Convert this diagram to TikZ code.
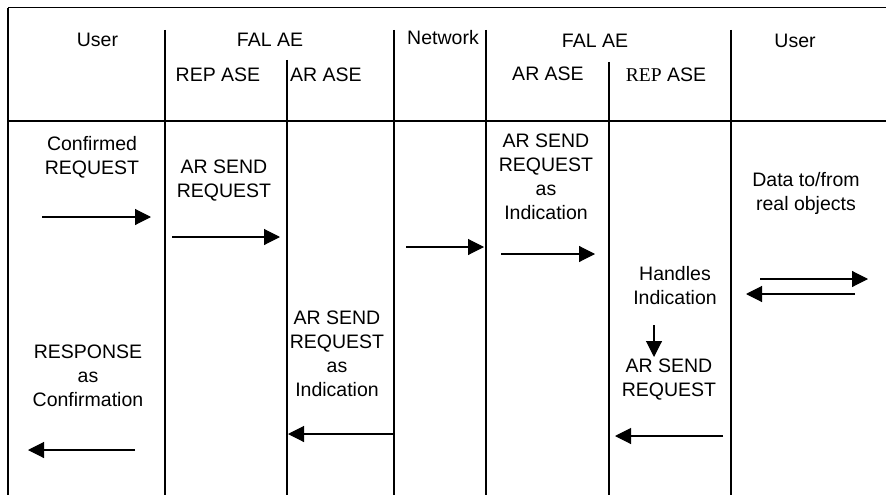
\documentclass[tikz,border=0pt]{standalone}
\usepackage{fontspec}
\setmainfont{Liberation Sans}
\newfontfamily\timesfont{Liberation Serif}
\usetikzlibrary{arrows.meta}
\tikzset{
  lbl/.style={inner sep=0pt, align=center, font=\fontsize{19.5}{24}\selectfont},
  col/.style={line width=1.7pt},
  msg/.style={line width=1.1pt, -{Triangle[length=16pt,width=16pt]}},
}
\begin{document}
\begin{tikzpicture}[x=1pt,y=-1pt]
\useasboundingbox (0,0) rectangle (886,495);
% frame
\draw[line width=1pt] (8,8) -- (886,8);
\draw[line width=1.4pt] (8,8) -- (8,495);
\draw[line width=2.4pt] (8,121) -- (886,121);
% column lines
\draw[col] (165,30) -- (165,495);
\draw[col] (287,60) -- (287,495);
\draw[col] (394,30) -- (394,495);
\draw[col] (486,30) -- (486,495);
\draw[col] (609,62) -- (609,495);
\draw[col] (731,30) -- (731,495);
% headers
\node[lbl] (hUserL) at (97.5,40) {User};
\node[lbl] (hFalL) at (270,40) {FAL AE};
\node[lbl] (hRepL) at (218,74.5) {REP ASE};
\node[lbl] (hArL) at (326,74.5) {AR ASE};
\node[lbl] (hNet) at (443,38) {Network};
\node[lbl] (hFalR) at (595,40.5) {FAL AE};
\node[lbl] (hArR) at (548,73.5) {AR ASE};
\node[lbl] (hRepR) at (666,75) {{\timesfont REP} ASE};
\node[lbl] (hUserR) at (795,40.5) {User};
% body texts
\node[lbl] (t1) at (92,157) {Confirmed\\REQUEST};
\node[lbl] (t2) at (224,181) {AR SEND\\REQUEST};
\node[lbl] (t3) at (546,177) {AR SEND\\REQUEST\\as\\Indication};
\node[lbl] (t4) at (806,193) {Data to/from\\real objects};
\node[lbl] (t5) at (675,286) {Handles\\Indication};
\node[lbl] (t6) at (669,380) {AR SEND\\REQUEST};
\node[lbl] (t7) at (337,354) {AR SEND\\REQUEST\\as\\Indication};
\node[lbl] (t8) at (88,376) {RESPONSE\\as\\Confirmation};
% arrow endpoints
\coordinate (a1s) at (42,217);  \coordinate (a1e) at (151,217);
\coordinate (a2s) at (172,237); \coordinate (a2e) at (280,237);
\coordinate (a3s) at (406,247); \coordinate (a3e) at (484,247);
\coordinate (a4s) at (501,254); \coordinate (a4e) at (595,254);
\coordinate (a5s) at (760,279); \coordinate (a5e) at (868,279);
\coordinate (a6s) at (855,294); \coordinate (a6e) at (746,294);
\coordinate (a7s) at (654,325); \coordinate (a7e) at (654,357);
\coordinate (a8s) at (723,436); \coordinate (a8e) at (615,436);
\coordinate (a9s) at (394,434); \coordinate (a9e) at (288,434);
\coordinate (a10s) at (135,450); \coordinate (a10e) at (28,450);
\foreach \i in {1,...,10} \draw[msg] (a\i s) -- (a\i e);
\end{tikzpicture}
\end{document}
